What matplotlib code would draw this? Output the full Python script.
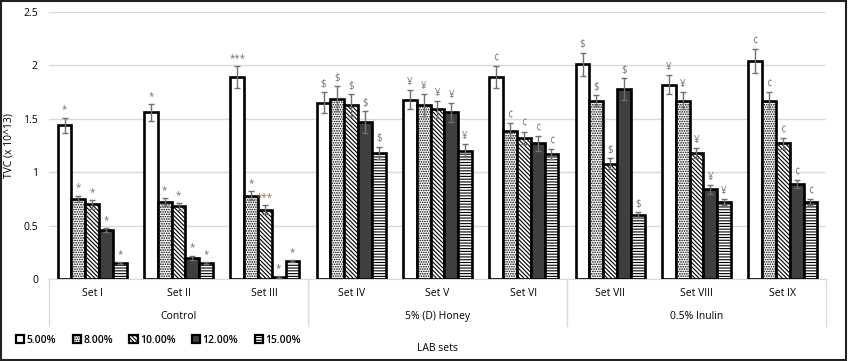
import numpy as np
import matplotlib
matplotlib.use('Agg')
import matplotlib.pyplot as plt
from matplotlib.patches import Rectangle, Patch

plt.rcParams['font.family'] = ['Open Sans', 'DejaVu Sans']
plt.rcParams['hatch.linewidth'] = 0.8

# dados
sets = ['Set I', 'Set II', 'Set III', 'Set IV', 'Set V', 'Set VI', 'Set VII', 'Set VIII', 'Set IX']
groups = ['Control', '5% (D) Honey', '0.5% Inulin']
series = ['5.00%', '8.00%', '10.00%', '12.00%', '15.00%']

v5 = [1.44, 1.56, 1.89, 1.65, 1.68, 1.89, 2.01, 1.82, 2.04]
v8 = [0.75, 0.72, 0.78, 1.69, 1.63, 1.39, 1.67, 1.67, 1.67]
v10 = [0.70, 0.68, 0.65, 1.63, 1.59, 1.32, 1.08, 1.18, 1.27]
v12 = [0.46, 0.20, 0.02, 1.47, 1.56, 1.27, 1.78, 0.84, 0.89]
v15 = [0.15, 0.15, 0.17, 1.18, 1.20, 1.17, 0.60, 0.72, 0.72]

e5 = [0.07, 0.08, 0.10, 0.10, 0.09, 0.10, 0.11, 0.09, 0.11]
e8 = [0.03, 0.04, 0.04, 0.12, 0.10, 0.07, 0.05, 0.08, 0.08]
e10 = [0.04, 0.03, 0.04, 0.10, 0.08, 0.06, 0.05, 0.05, 0.05]
e12 = [0.02, 0.02, 0.01, 0.10, 0.09, 0.07, 0.10, 0.04, 0.04]
e15 = [0.01, 0.01, 0.01, 0.06, 0.06, 0.05, 0.03, 0.03, 0.03]

# marcas de significância por conjunto
sig = [
    ['*', '*', '*', '*', '*'],
    ['*', '*', '*', '*', '*'],
    ['***', '*', '***', '*', '*'],
    ['$', '$', '$', '$', '$'],
    ['¥', '¥', '¥', '¥', '¥'],
    ['¢', '¢', '¢', '¢', '¢'],
    ['$', '$', '$', '$', '$'],
    ['¥', '¥', '¥', '¥', '¥'],
    ['¢', '¢', '¢', '¢', '¢'],
]

values = [v5, v8, v10, v12, v15]
errors = [e5, e8, e10, e12, e15]
faces = ['white', 'white', 'white', '#3f3f3f', 'white']
hatches = [None, '.......', '\\' * 8, None, '-' * 6]

fig = plt.figure(figsize=(8.48, 3.61), dpi=100)
ax = fig.add_axes([0.0578, 0.2271, 0.9162, 0.7397])

x = np.arange(len(sets))
w = 0.16
for i in range(5):
    pos = x + (i - 2) * w
    ax.bar(pos, values[i], w, color=faces[i], edgecolor='black', linewidth=1.9,
           hatch=hatches[i], zorder=3, label=series[i])
    ax.errorbar(pos, values[i], yerr=errors[i], fmt='none', ecolor='#707070',
                elinewidth=1, capsize=2.5, zorder=4)
    for j in range(len(sets)):
        ax.text(pos[j], values[i][j] + errors[i][j] + 0.02, sig[j][i],
                ha='center', va='bottom', fontsize=7, color='#8a6e5c', zorder=5)

ax.set_xlim(-0.5, len(sets) - 0.5)
ax.set_ylim(0, 2.5)
ax.set_yticks([0, 0.5, 1, 1.5, 2, 2.5])
ax.set_yticklabels(['0', '0.5', '1', '1.5', '2', '2.5'])
ax.yaxis.grid(True, color='#d9d9d9', linewidth=1, zorder=0)
for s in ['left', 'right', 'top']:
    ax.spines[s].set_visible(False)
ax.spines['bottom'].set_color('#d9d9d9')
ax.tick_params(axis='y', length=0, labelsize=7.5, pad=8)
ax.tick_params(axis='x', length=0, labelbottom=False)
ax.set_ylabel('TVC (x 10^13)', fontsize=7.5, labelpad=6)

# eixo de categorias em dois níveis
trans = ax.get_xaxis_transform()
for j, s in enumerate(sets):
    ax.text(j, -0.035, s, transform=trans, ha='center', va='top', fontsize=7.5)
for g, name in enumerate(groups):
    ax.text(3 * g + 1, -0.12, name, transform=trans, ha='center', va='top', fontsize=7.5)
for b in [-0.5, 2.5, 5.5, 8.5]:
    ax.plot([b, b], [0, -0.175], transform=trans, color='#d9d9d9', lw=1, clip_on=False)

fig.text(0.516, 0.036, 'LAB sets', ha='center', va='center', fontsize=7.5)

handles = [Patch(facecolor=faces[i], edgecolor='black', linewidth=1.6, hatch=hatches[i])
           for i in range(5)]
fig.legend(handles, series, loc='center left', bbox_to_anchor=(0.008, 0.058), ncol=5,
           frameon=False, prop={'size': 7.5, 'weight': 'semibold'}, handlelength=0.8,
           handleheight=0.8, handletextpad=0.2, columnspacing=1.6)

fig.patches.append(Rectangle((0.001, 0.002), 0.997, 0.995, transform=fig.transFigure,
                             fill=False, edgecolor='#222222', linewidth=1.5))

fig.savefig('out.png', dpi=100)
